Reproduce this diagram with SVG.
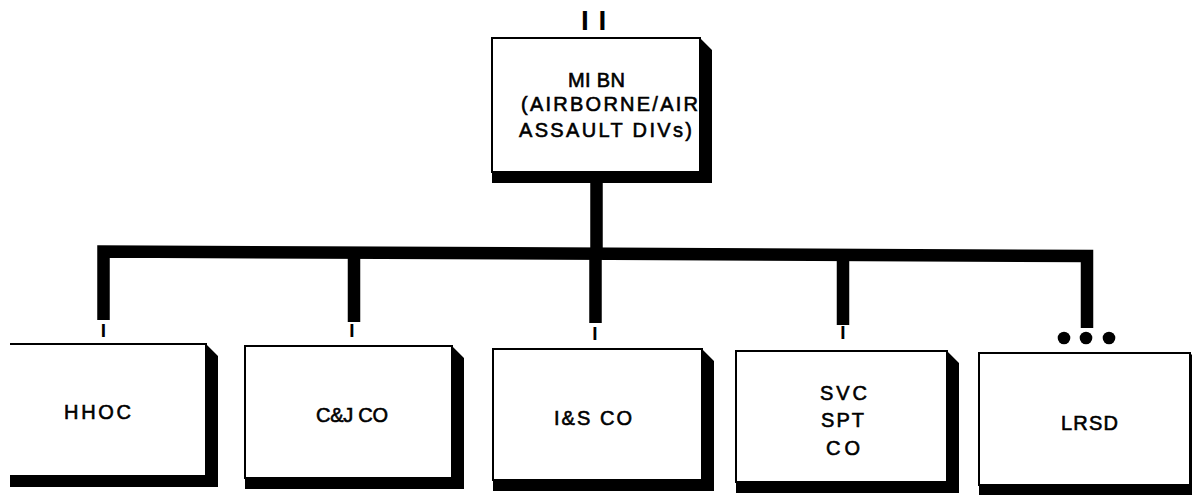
<svg xmlns="http://www.w3.org/2000/svg" width="1192" height="495" viewBox="0 0 1192 495">
  <style>
    .box { fill: #ffffff; stroke: #000000; stroke-width: 2; }
    .edge { fill: none; stroke: #000000; stroke-width: 2; }
    .shadow { fill: #000000; }
    .lbl { font-family: "Liberation Sans", Arial, sans-serif; font-size: 20px; fill: #000000; stroke: #000000; stroke-width: 0.6; }
    .sym { font-family: "Liberation Sans", Arial, sans-serif; font-weight: bold; fill: #000000; }
    .conn { fill: none; stroke: #000000; stroke-width: 12.5; stroke-linejoin: miter; stroke-linecap: butt; }
  </style>
  <rect x="0" y="0" width="1192" height="495" fill="#ffffff"/>

  <g id="connectors">
    <path class="conn" d="M596.5,178 V254"/>
    <path class="conn" d="M103.5,320 V251.5 L1087,256 V328"/>
    <path class="conn" d="M354,252 V322"/>
    <path class="conn" d="M595.5,253 V323"/>
    <path class="conn" d="M843,254 V325"/>
  </g>

  <g id="mi-bn">
    <text class="sym" x="581" y="30" font-size="28" letter-spacing="1">I I</text>
    <polygon class="shadow" points="700,38 712,50 712,183 492,183 492,172 700,172"/>
    <rect class="box" x="492" y="38" width="208" height="134"/>
    <text class="lbl" x="568" y="87" textLength="57" lengthAdjust="spacing">MI BN</text>
    <text class="lbl" x="521" y="111" textLength="177" lengthAdjust="spacing">(AIRBORNE/AIR</text>
    <text class="lbl" x="519" y="137" textLength="173" lengthAdjust="spacing">ASSAULT DIVs)</text>
  </g>

  <g id="hhoc">
    <text class="sym" x="103.5" y="337" font-size="19" text-anchor="middle">I</text>
    <polygon class="shadow" points="206,344 218,356 218,487 10,487 10,476 206,476"/>
    <rect x="10" y="344" width="196" height="132" fill="#ffffff"/>
    <path class="edge" d="M10,344 H206 V476 H10"/>
    <text class="lbl" x="64" y="419" textLength="67" lengthAdjust="spacing">HHOC</text>
  </g>

  <g id="cj-co">
    <text class="sym" x="352" y="337" font-size="19" text-anchor="middle">I</text>
    <polygon class="shadow" points="452,346 464,358 464,489 245,489 245,478 452,478"/>
    <rect class="box" x="245" y="346" width="207" height="132"/>
    <text class="lbl" x="316" y="422" textLength="72" lengthAdjust="spacing">C&amp;J CO</text>
  </g>

  <g id="is-co">
    <text class="sym" x="595" y="340" font-size="19" text-anchor="middle">I</text>
    <polygon class="shadow" points="702,349 714,361 714,491 493,491 493,480 702,480"/>
    <rect class="box" x="493" y="349" width="209" height="131"/>
    <text class="lbl" x="554" y="425" textLength="78" lengthAdjust="spacing">I&amp;S CO</text>
  </g>

  <g id="svc-spt-co">
    <text class="sym" x="843" y="339" font-size="19" text-anchor="middle">I</text>
    <polygon class="shadow" points="947,351 959,363 959,493 736,493 736,482 947,482"/>
    <rect class="box" x="736" y="351" width="211" height="131"/>
    <text class="lbl" x="820" y="400" textLength="47" lengthAdjust="spacing">SVC</text>
    <text class="lbl" x="821" y="427" textLength="43" lengthAdjust="spacing">SPT</text>
    <text class="lbl" x="826" y="455" textLength="34" lengthAdjust="spacing">CO</text>
  </g>

  <g id="lrsd">
    <circle cx="1064" cy="338" r="6.3" fill="#000000"/>
    <circle cx="1086" cy="338" r="6.3" fill="#000000"/>
    <circle cx="1109" cy="338" r="6.3" fill="#000000"/>
    <polygon class="shadow" points="1190,353 1202,365 1202,496 979,496 979,485 1190,485"/>
    <rect class="box" x="979" y="353" width="211" height="132"/>
    <text class="lbl" x="1061" y="430" textLength="57" lengthAdjust="spacing">LRSD</text>
  </g>
</svg>
